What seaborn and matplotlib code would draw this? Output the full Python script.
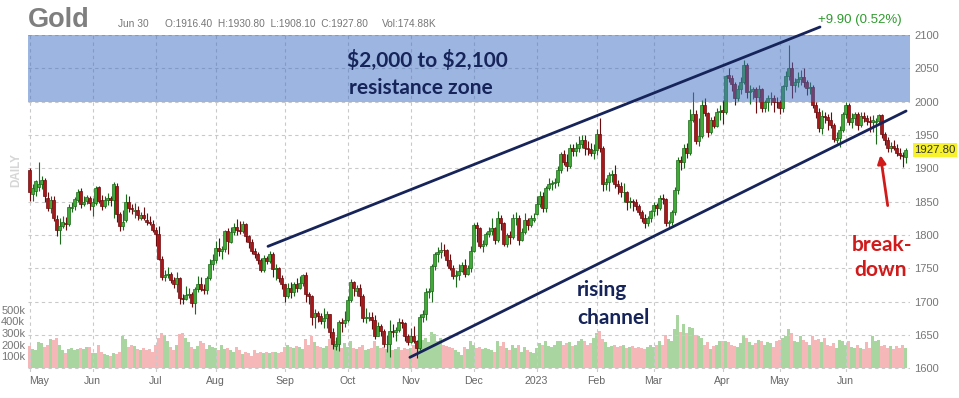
import numpy as np
import pandas as pd
import matplotlib
matplotlib.use("Agg")
import matplotlib.pyplot as plt
import matplotlib.transforms as mtransforms
import seaborn as sns

# --- daily gold futures, 2 May 2022 .. 30 Jun 2023 ---
holidays = ["2022-05-30", "2022-06-20", "2022-07-04", "2022-09-05", "2022-11-24",
            "2022-12-26", "2023-01-02", "2023-01-16", "2023-02-20", "2023-04-07",
            "2023-05-29", "2023-06-19"]

opens = [
    1897, 1862, 1866, 1872, 1876, 1883, 1856, 1840, 1852, 1824, 1808, 1814, 1818, 1816, 1841, 1843, 1853, 1866, 1846, 1851, 1856,
    1843, 1848, 1872, 1852, 1843, 1853, 1855, 1852, 1874, 1831, 1813, 1822, 1850, 1840, 1836, 1838, 1826, 1830, 1823, 1820, 1817,
    1807, 1801, 1764, 1737, 1740, 1742, 1732, 1726, 1735, 1706, 1704, 1710, 1711, 1698, 1719, 1727, 1719, 1718, 1736, 1756,
    1763, 1780, 1776, 1779, 1806, 1790, 1805, 1812, 1807, 1806, 1816, 1798, 1789, 1776, 1771, 1762, 1748, 1765, 1761, 1771, 1749, 1750, 1736,
    1726, 1709, 1721, 1714, 1727, 1721, 1728, 1740, 1711, 1709, 1677, 1683, 1678, 1671, 1675, 1681, 1655, 1633, 1636, 1670, 1668,
    1672, 1702, 1730, 1716, 1720, 1709, 1675, 1675, 1677, 1673, 1649, 1664, 1656, 1636, 1637, 1656, 1654, 1658, 1669, 1668, 1648,
    1640, 1649, 1641, 1630, 1677, 1681, 1715, 1716, 1754, 1771, 1774, 1778, 1777, 1762, 1751, 1739, 1740, 1746, 1755, 1741, 1750,
    1776, 1815, 1810, 1784, 1786, 1802, 1806, 1810, 1792, 1825, 1818, 1787, 1800, 1797, 1825, 1826, 1792, 1804, 1823, 1815, 1823,
    1831, 1846, 1859, 1840, 1870, 1877, 1878, 1879, 1898, 1921, 1910, 1904, 1930, 1926, 1931, 1937, 1942, 1930, 1929, 1923,
    1928, 1951, 1930, 1877, 1879, 1890, 1891, 1876, 1874, 1864, 1865, 1850, 1851, 1850, 1843, 1834, 1826, 1818, 1825,
    1836, 1845, 1840, 1856, 1854, 1818, 1819, 1834, 1867, 1913, 1910, 1931, 1923, 1973, 1982, 1941, 1949, 1995, 1983, 1954, 1973, 1964, 1984,
    1988, 1985, 2040, 2036, 2026, 2006, 2019, 2030, 2055, 2015, 2016, 2019, 2007, 2019, 1990, 1999, 2005, 2006, 2000,
    1999, 1990, 2023, 2038, 2050, 2025, 2029, 2034, 2037, 2030, 2020, 2022, 1995, 1984, 1960, 1979, 1977, 1972, 1965, 1942, 1946, 1958,
    1982, 1995, 1969, 1975, 1981, 1965, 1979, 1976, 1971, 1970, 1970, 1971, 1980, 1951, 1943, 1930, 1933, 1931, 1923, 1920, 1916.4,
]
highs = [
    1900, 1876, 1883, 1909, 1889, 1885, 1864, 1859, 1858, 1830, 1825, 1828, 1827, 1847, 1850, 1857, 1869, 1870, 1858, 1860, 1858,
    1856, 1874, 1874, 1860, 1858, 1863, 1859, 1880, 1878, 1835, 1838, 1861, 1858, 1847, 1848, 1843, 1834, 1842, 1833, 1828, 1822,
    1812, 1813, 1769, 1747, 1752, 1745, 1737, 1745, 1737, 1712, 1723, 1720, 1715, 1722, 1739, 1737, 1726, 1738, 1764, 1771,
    1791, 1795, 1783, 1808, 1810, 1812, 1818, 1824, 1821, 1821, 1818, 1800, 1794, 1780, 1775, 1765, 1770, 1768, 1776, 1774, 1757, 1752, 1740,
    1727, 1728, 1730, 1729, 1735, 1738, 1742, 1745, 1715, 1710, 1689, 1686, 1683, 1690, 1686, 1682, 1660, 1647, 1672, 1676, 1686,
    1708, 1734, 1731, 1725, 1726, 1711, 1690, 1685, 1685, 1680, 1669, 1667, 1659, 1650, 1672, 1666, 1662, 1675, 1674, 1670, 1651,
    1661, 1663, 1642, 1682, 1687, 1720, 1721, 1757, 1775, 1782, 1790, 1786, 1779, 1771, 1755, 1747, 1756, 1759, 1764, 1755, 1784,
    1818, 1820, 1812, 1792, 1805, 1812, 1825, 1812, 1836, 1830, 1820, 1803, 1806, 1832, 1834, 1830, 1810, 1833, 1826, 1830, 1833,
    1858, 1866, 1865, 1873, 1886, 1882, 1885, 1904, 1925, 1928, 1922, 1936, 1937, 1939, 1949, 1950, 1950, 1941, 1938, 1937,
    1959, 1975, 1934, 1885, 1895, 1898, 1905, 1882, 1880, 1878, 1866, 1857, 1854, 1854, 1847, 1837, 1832, 1829, 1838,
    1850, 1848, 1860, 1862, 1856, 1823, 1838, 1872, 1917, 1919, 1937, 1938, 1989, 2014, 1988, 1975, 2003, 2006, 1985, 1977, 1978, 1990, 1995,
    2003, 2040, 2050, 2040, 2030, 2025, 2037, 2062, 2058, 2025, 2022, 2022, 2025, 2021, 2003, 2010, 2015, 2010, 2007,
    2003, 2025, 2046, 2085, 2060, 2035, 2045, 2048, 2050, 2033, 2029, 2025, 1999, 1990, 1988, 1985, 1982, 1985, 1968, 1955, 1963, 1985,
    2000, 1998, 1983, 1985, 1985, 1985, 1985, 1980, 1978, 1980, 1975, 1982, 1981, 1955, 1947, 1940, 1942, 1936, 1930, 1925, 1930.8,
]
lows = [
    1851, 1851, 1859, 1866, 1869, 1850, 1836, 1833, 1821, 1798, 1787, 1810, 1807, 1813, 1835, 1837, 1849, 1840, 1843, 1846, 1837,
    1829, 1845, 1848, 1838, 1840, 1845, 1843, 1825, 1819, 1806, 1808, 1820, 1835, 1831, 1826, 1822, 1822, 1823, 1815, 1815, 1805,
    1784, 1763, 1732, 1731, 1735, 1728, 1721, 1714, 1697, 1697, 1702, 1705, 1692, 1681, 1715, 1716, 1712, 1712, 1733, 1748,
    1758, 1768, 1764, 1775, 1772, 1788, 1800, 1800, 1802, 1803, 1790, 1781, 1772, 1765, 1756, 1744, 1745, 1756, 1758, 1737, 1733, 1730, 1719,
    1700, 1706, 1705, 1708, 1715, 1719, 1724, 1700, 1697, 1665, 1661, 1670, 1666, 1660, 1660, 1645, 1629, 1627, 1626, 1654, 1662,
    1669, 1700, 1708, 1709, 1693, 1670, 1668, 1671, 1659, 1644, 1648, 1648, 1632, 1625, 1617, 1647, 1641, 1655, 1660, 1641, 1635,
    1638, 1638, 1616, 1628, 1669, 1673, 1705, 1700, 1748, 1760, 1766, 1768, 1754, 1747, 1734, 1722, 1733, 1745, 1737, 1740, 1745,
    1774, 1790, 1781, 1775, 1783, 1797, 1800, 1787, 1790, 1808, 1784, 1782, 1787, 1794, 1815, 1785, 1791, 1802, 1808, 1812, 1820,
    1830, 1842, 1835, 1834, 1867, 1867, 1871, 1873, 1893, 1905, 1896, 1900, 1918, 1918, 1925, 1930, 1920, 1920, 1918, 1914,
    1920, 1925, 1866, 1867, 1866, 1880, 1870, 1862, 1857, 1850, 1838, 1840, 1836, 1838, 1830, 1819, 1810, 1814, 1820,
    1829, 1830, 1838, 1846, 1813, 1810, 1815, 1830, 1862, 1898, 1900, 1915, 1920, 1970, 1937, 1934, 1946, 1978, 1947, 1951, 1960, 1962, 1972,
    1967, 1982, 2030, 2016, 1995, 2001, 2012, 2027, 2006, 1996, 2004, 1983, 2000, 1985, 1985, 1986, 1995, 1985, 1990,
    1982, 1985, 2017, 2033, 2005, 2015, 2022, 2025, 2022, 2010, 2011, 1990, 1975, 1955, 1952, 1968, 1958, 1960, 1940, 1938, 1932, 1955,
    1975, 1965, 1960, 1965, 1958, 1962, 1970, 1965, 1955, 1955, 1937, 1966, 1945, 1935, 1925, 1925, 1927, 1918, 1914, 1902, 1908.1,
]
closes = [
    1864, 1871, 1881, 1876, 1883, 1858, 1841, 1853, 1825, 1808, 1814, 1819, 1816, 1842, 1842, 1854, 1865, 1846, 1850, 1857, 1848,
    1849, 1871, 1851, 1844, 1853, 1855, 1853, 1876, 1832, 1813, 1819, 1850, 1841, 1839, 1838, 1830, 1830, 1825, 1820, 1818, 1807,
    1801, 1764, 1737, 1740, 1742, 1732, 1726, 1736, 1706, 1704, 1710, 1711, 1698, 1719, 1727, 1719, 1717, 1735, 1756, 1762,
    1780, 1776, 1779, 1806, 1791, 1805, 1812, 1807, 1806, 1816, 1798, 1789, 1776, 1771, 1762, 1748, 1765, 1761, 1771, 1749, 1750, 1736, 1726,
    1709, 1721, 1714, 1727, 1721, 1728, 1740, 1711, 1709, 1677, 1683, 1678, 1671, 1675, 1681, 1655, 1636, 1636, 1670, 1668, 1672,
    1702, 1730, 1720, 1720, 1709, 1675, 1677, 1677, 1673, 1649, 1664, 1656, 1636, 1637, 1656, 1654, 1658, 1669, 1668, 1648, 1640,
    1649, 1641, 1630, 1677, 1681, 1715, 1716, 1754, 1771, 1774, 1778, 1777, 1762, 1751, 1739, 1740, 1746, 1755, 1741, 1750, 1776,
    1815, 1810, 1784, 1786, 1802, 1806, 1810, 1792, 1825, 1818, 1787, 1800, 1797, 1825, 1826, 1792, 1804, 1823, 1815, 1826, 1826,
    1846, 1859, 1840, 1870, 1877, 1878, 1879, 1898, 1921, 1910, 1904, 1930, 1926, 1931, 1937, 1942, 1930, 1929, 1923, 1928,
    1951, 1930, 1877, 1879, 1890, 1891, 1876, 1874, 1864, 1865, 1850, 1851, 1850, 1843, 1834, 1826, 1818, 1825, 1836,
    1845, 1840, 1856, 1854, 1818, 1819, 1834, 1867, 1913, 1910, 1931, 1923, 1973, 1982, 1941, 1949, 1995, 1983, 1954, 1973, 1964, 1984, 1986,
    1985, 2038, 2036, 2026, 2006, 2019, 2030, 2055, 2015, 2016, 2019, 2007, 2019, 1990, 1999, 2005, 2006, 2000, 1999,
    1990, 2023, 2038, 2050, 2025, 2029, 2034, 2037, 2030, 2020, 2022, 1995, 1984, 1960, 1979, 1977, 1972, 1965, 1944, 1946, 1958, 1982,
    1995, 1969, 1975, 1981, 1965, 1979, 1976, 1971, 1970, 1972, 1971, 1980, 1951, 1943, 1930, 1933, 1931, 1923, 1920, 1917.9, 1927.8,
]
volumes = [  # thousands of contracts
    190, 160, 150, 220, 210, 180, 200, 250, 240, 260, 200, 150, 130, 160, 170, 150, 160, 170, 160, 180, 180,
    130, 130, 200, 140, 120, 110, 100, 130, 120, 140, 270, 250, 180, 200, 190, 160, 150, 170, 150, 160, 140,
    200, 260, 300, 280, 230, 180, 150, 200, 290, 300, 260, 220, 180, 160, 190, 230, 210, 160, 200, 180,
    170, 150, 200, 160, 170, 150, 140, 180, 150, 120, 140, 130, 100, 150, 130, 140, 130, 140, 130, 140, 140, 130, 140,
    180, 200, 180, 170, 190, 180, 160, 250, 200, 270, 220, 190, 180, 170, 190, 250, 240, 230, 200, 170, 210,
    180, 230, 170, 160, 180, 200, 150, 160, 170, 230, 190, 170, 180, 160, 220, 150, 160, 180, 150, 170, 160,
    170, 200, 230, 280, 240, 260, 220, 310, 290, 230, 260, 200, 190, 180, 170, 150, 140, 110, 180, 160, 230,
    200, 170, 180, 160, 170, 160, 150, 140, 230, 190, 220, 170, 150, 200, 170, 200, 140, 180, 150, 140, 130,
    170, 210, 200, 230, 190, 180, 200, 230, 230, 200, 210, 220, 190, 200, 230, 250, 230, 200, 210, 260,
    300, 320, 250, 220, 180, 190, 200, 180, 190, 200, 170, 180, 190, 170, 180, 170, 160, 180, 200,
    180, 200, 230, 200, 280, 250, 230, 330, 450, 310, 380, 300, 350, 340, 280, 270, 260, 200, 220, 160, 190, 200, 230,
    230, 230, 220, 200, 190, 180, 210, 270, 260, 220, 200, 210, 240, 230, 200, 220, 210, 180, 230,
    240, 260, 270, 330, 300, 230, 220, 270, 240, 220, 200, 270, 240, 250, 220, 260, 200, 190, 210, 170, 240, 230,
    200, 230, 180, 170, 200, 170, 160, 220, 170, 270, 230, 240, 190, 200, 170, 190, 160, 190, 170, 200, 175,
]
last_volume = "174.88K"

month_labels = ["May", "Jun", "Jul", "Aug", "Sep", "Oct", "Nov", "Dec",
                "2023", "Feb", "Mar", "Apr", "May", "Jun"]
price_ticks = [1600, 1650, 1700, 1750, 1800, 1850, 1900, 1950, 2000, 2050, 2100]
vol_ticks = [100, 200, 300, 400, 500]
resistance_zone = [2000, 2100]

# trend lines drawn on the chart: (day index, price) end points
upper_channel_x = [79.5, 263.5]
upper_channel_y = [1783, 2112]
lower_channel_x = [126.8, 292.2]
lower_channel_y = [1616.5, 1986]

# ---- build frame ----
dates = pd.bdate_range("2022-05-02", "2023-06-30")
dates = dates[~dates.isin(pd.to_datetime(holidays))]
df = pd.DataFrame({"open": opens, "high": highs, "low": lows,
                   "close": closes, "volume": volumes}, index=dates)
df["i"] = np.arange(len(df))
up = (df["close"] >= df["open"]).values
month_starts = df.groupby([df.index.year, df.index.month])["i"].first().values

# ---- figure ----
sns.set_theme(style="white")
plt.rcParams["font.family"] = ["Liberation Sans", "DejaVu Sans"]

W, H = 959, 398
fig = plt.figure(figsize=(W / 100, H / 100), dpi=100)
ax = fig.add_axes([28 / W, 26 / H, 882 / W, 337 / H])
axv = ax.twinx()
ax.set_zorder(axv.get_zorder() + 1)
ax.patch.set_visible(False)

# volume panel
vol_colors = np.where(up, "#a9d6a0", "#f5b7b7")
axv.bar(df["i"], df["volume"], width=0.9, color=vol_colors, linewidth=0)
axv.set_ylim(-34, 2846)
axv.yaxis.tick_left()
axv.set_yticks(vol_ticks)
axv.set_yticklabels([f"{v}k" for v in vol_ticks])
axv.tick_params(axis="y", length=0, pad=2, labelsize=8, labelcolor="#777777")

# candles
face = np.where(up, "#3faa35", "#a8171a")
edge = np.where(up, "#1d6a1a", "#6a0c0e")
ax.vlines(df["i"], df["low"], df["high"], colors=edge, lw=0.8, zorder=2)
body_lo = np.minimum(df["open"], df["close"])
body_h = np.maximum(np.abs(df["close"] - df["open"]), 0.8)
ax.bar(df["i"], body_h, bottom=body_lo, width=0.72, color=face,
       edgecolor=edge, linewidth=0.5, zorder=2.5)

# resistance band
ax.axhspan(resistance_zone[0], resistance_zone[1], color="#3d6cc4", alpha=0.5, lw=0, zorder=3)

# channel lines
navy = "#16245a"
ax.plot(upper_channel_x, upper_channel_y, color=navy, lw=2, clip_on=False, zorder=4)
ax.plot(lower_channel_x, lower_channel_y, color=navy, lw=2, clip_on=False, zorder=4)

ax.set_xlim(-0.5, len(df) + 0.5)
ax.set_ylim(1594.5, 2100)
ax.yaxis.tick_right()
ax.set_yticks(price_ticks)
ax.tick_params(axis="y", length=0, pad=3, labelsize=8, labelcolor="#777777")
ax.set_xticks(month_starts)
ax.set_xticklabels(month_labels)
ax.tick_params(axis="x", length=0, pad=3, labelsize=7.6, labelcolor="#666666")
ax.get_xticklabels()[0].set_ha("left")
ax.grid(True, ls=(0, (3, 3)), color="#c9c9c9", lw=0.8)
axv.grid(False)
for a in (ax, axv):
    for s in a.spines.values():
        s.set_visible(False)

# annotations
ann = dict(family=["Lato", "DejaVu Sans"], weight="bold", fontsize=15)
ax.text(132.5, 2062, r"\$2,000 to \$2,100", color=navy, ha="center", va="center", zorder=5, **ann)
ax.text(130.5, 2020, "resistance zone", color=navy, ha="center", va="center", zorder=5, **ann)
ax.text(182.5, 1717, "rising", color=navy, ha="left", va="center", zorder=5, **ann)
ax.text(182.5, 1675, "channel", color=navy, ha="left", va="center", zorder=5, **ann)
red = "#d11a1a"
ax.text(274, 1785, "break-", color=red, ha="left", va="center", zorder=5, **ann)
ax.text(275, 1747, "down", color=red, ha="left", va="center", zorder=5, **ann)
ax.annotate("", xy=(283.5, 1924), xytext=(286.2, 1840),
            arrowprops=dict(arrowstyle="-|>", color=red, lw=2, mutation_scale=12),
            annotation_clip=False, zorder=5)

# last price tag
last = df.iloc[-1]
prev_close = df["close"].iloc[-2]
trans = mtransforms.blended_transform_factory(ax.transAxes, ax.transData)
ax.text(1.005, last["close"], f"{last['close']:.2f}", transform=trans,
        ha="left", va="center", fontsize=8.2, color="#333333", clip_on=False,
        bbox=dict(facecolor="#f7f22a", edgecolor="none", pad=1.2), zorder=6)

chg = last["close"] - prev_close
fig.text(818 / W, 1 - 20 / H, f"+{chg:.2f} ({chg / prev_close * 100:.2f}%)",
         color="#2f9a2f", fontsize=9.5, va="center", ha="left")

# header
fig.text(28 / W, 1 - 27 / H, "Gold", fontsize=19.5, weight="bold", color="#7f7f7f", va="baseline")
fig.text(118 / W, 1 - 24 / H, df.index[-1].strftime("%b %d"), fontsize=7.3, color="#777777", va="center")
fig.text(165 / W, 1 - 24 / H,
         f"O:{last['open']:.2f}  H:{last['high']:.2f}  L:{last['low']:.2f}  C:{last['close']:.2f}",
         fontsize=7.3, color="#777777", va="center")
fig.text(382 / W, 1 - 24 / H, f"Vol:{last_volume}", fontsize=7.3, color="#777777", va="center")
fig.text(16 / W, 1 - 170 / H, "DAILY", rotation=90, fontsize=8.5, weight="bold",
         color="#d6d6d6", ha="center", va="center")

fig.savefig("out.png", dpi=100)
